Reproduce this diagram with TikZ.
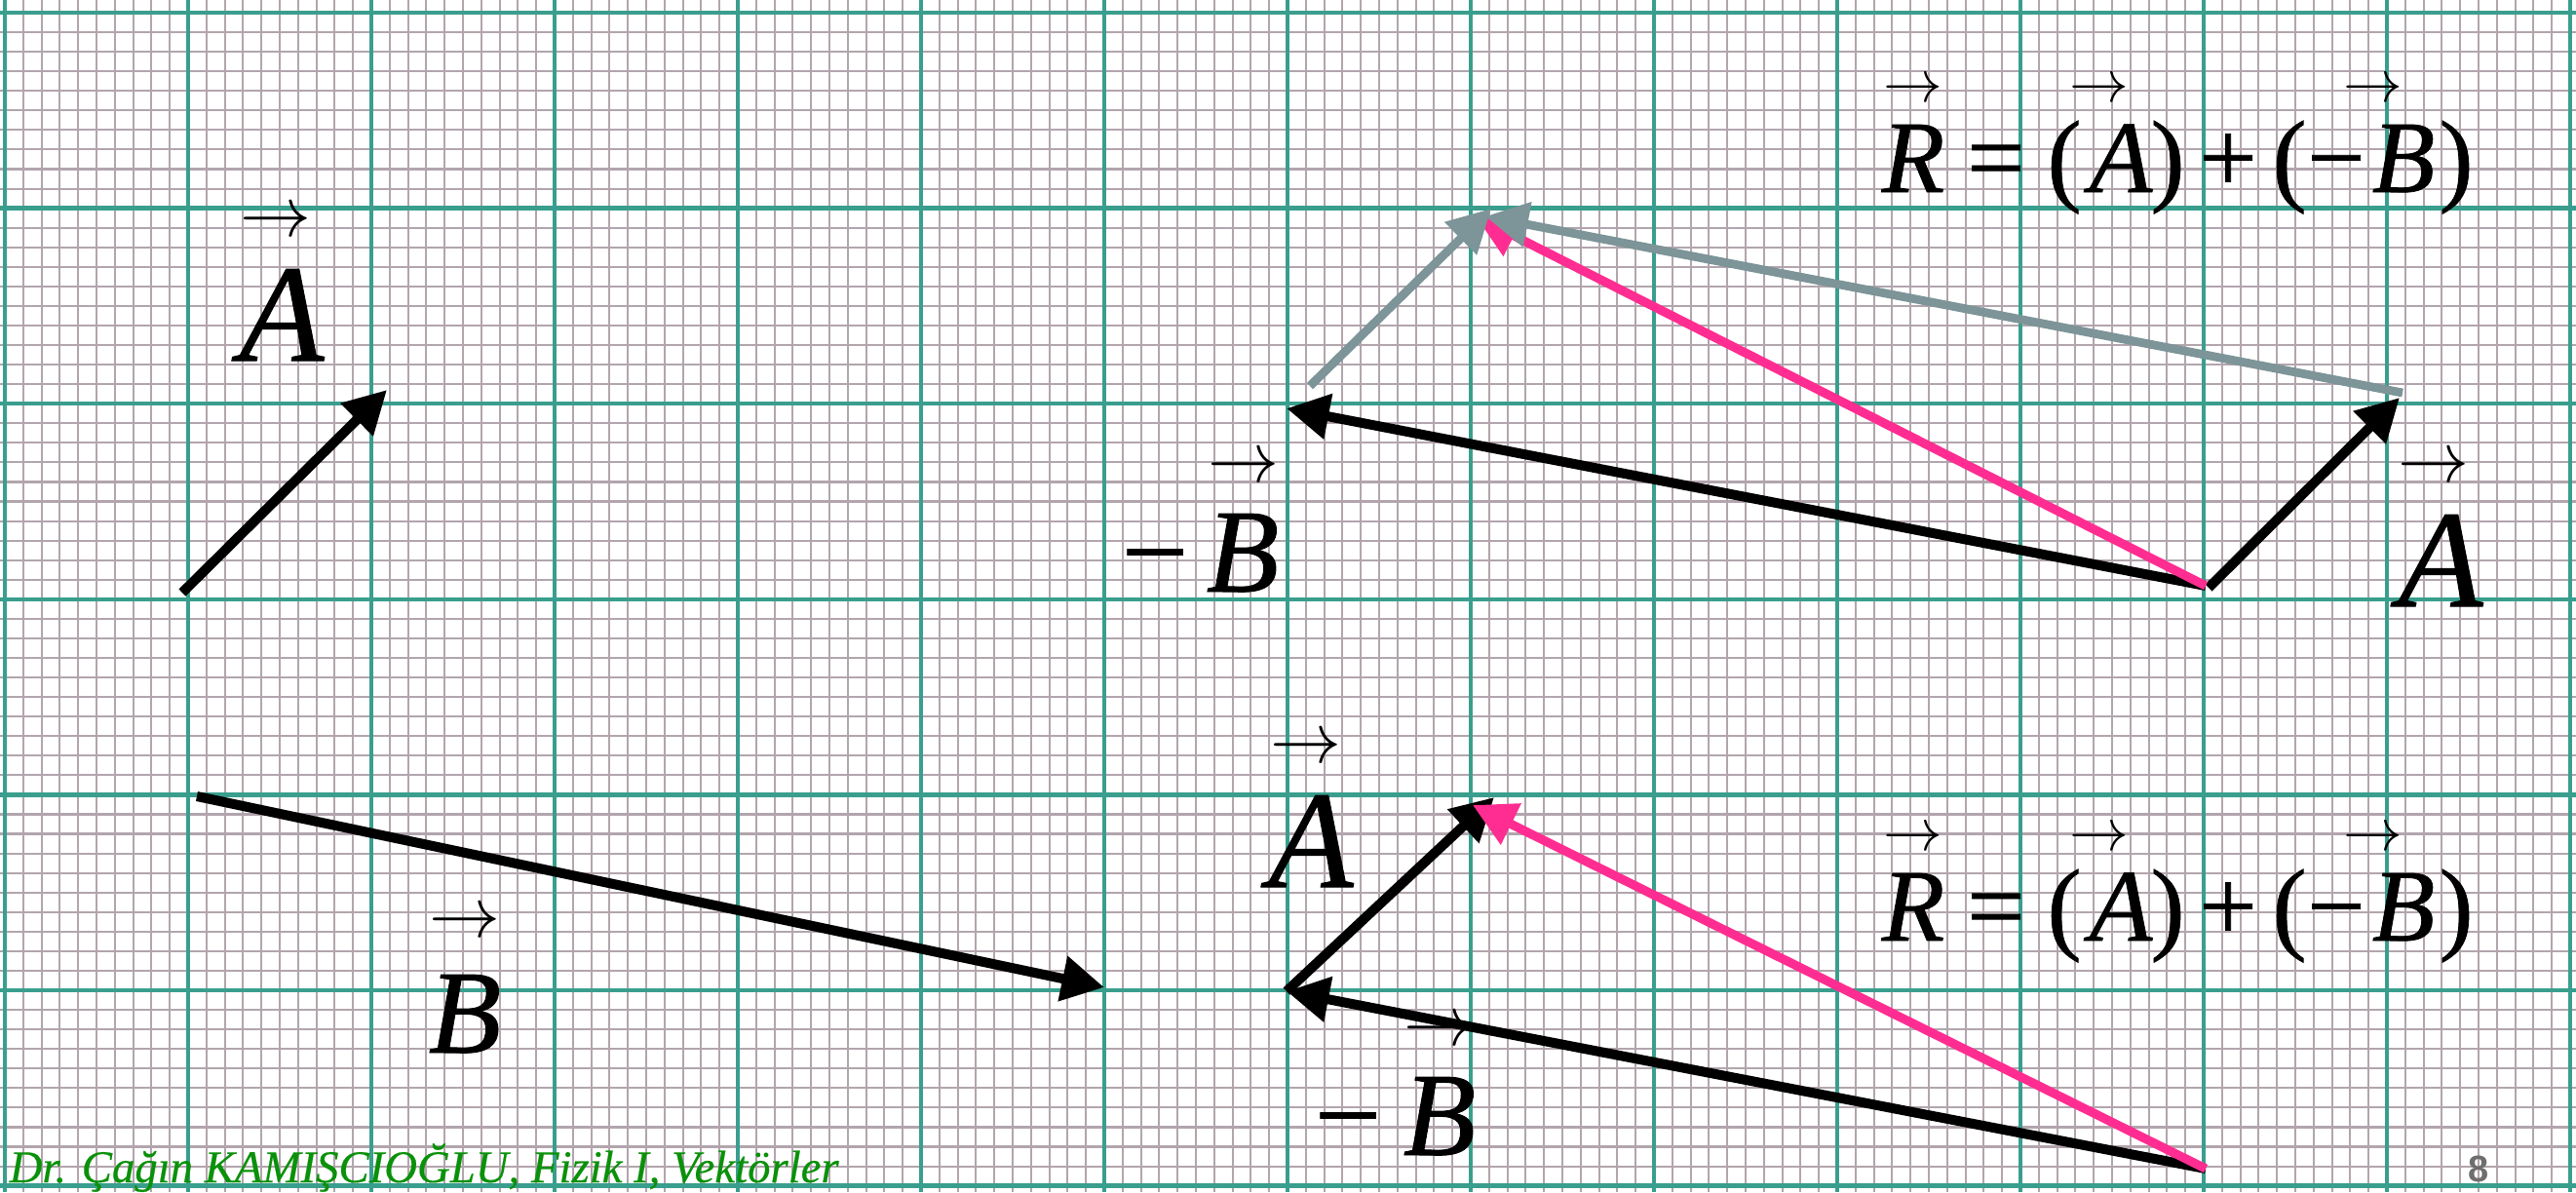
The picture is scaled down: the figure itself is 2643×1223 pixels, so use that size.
\documentclass[tikz,border=0pt]{standalone}
\usepackage{fontspec}
\setmainfont{Liberation Serif}
\newfontfamily\letfont[FakeBold=0.7]{Liberation Serif}
\newfontfamily\footfont[FakeBold=0.4]{Liberation Serif}
\newfontfamily\numfont{Liberation Sans}
\usetikzlibrary{arrows.meta}
\definecolor{minorc}{RGB}{178,165,173}
\definecolor{majorc}{RGB}{58,158,142}
\definecolor{pinkc}{RGB}{255,45,145}
\definecolor{grayc}{RGB}{125,148,152}
\definecolor{footc}{RGB}{10,145,10}
\definecolor{numc}{RGB}{110,110,110}
\tikzset{
  minorl/.style={line width=0.6pt, draw=minorc},
  majorl/.style={line width=1.25pt, draw=majorc},
  vecline/.style={line width=2.85pt, -{Triangle[length=12.4pt,width=12.8pt]}},
  vecblack/.style={vecline, draw=black},
  vecpink/.style={vecline, line width=2.6pt, draw=pinkc, -{Triangle[length=12.5pt,width=12.8pt]}},
  vecgray/.style={vecline, line width=2.5pt, draw=grayc, -{Triangle[length=12.5pt,width=12.8pt]}},
  alet/.style={inner sep=0, anchor=base, font=\fontsize{40.4}{44}\selectfont\letfont\itshape},
  blet/.style={inner sep=0, anchor=base, font=\fontsize{34.7}{38}\selectfont\letfont\itshape},
  bminus/.style={inner sep=0, anchor=base, font=\fontsize{34.7}{38}\selectfont\letfont},
  aarrow/.style={inner sep=0, anchor=base, font=\fontsize{21.5}{22}\selectfont},
  barrow/.style={inner sep=0, anchor=base, font=\fontsize{19.5}{20}\selectfont},
  earrow/.style={inner sep=0, anchor=base, font=\fontsize{16.8}{17}\selectfont},
  elet/.style={inner sep=0, anchor=base, font=\fontsize{30}{32}\selectfont\letfont\itshape},
  esym/.style={inner sep=0, anchor=base, font=\fontsize{30}{32}\selectfont\letfont},
  foot/.style={inner sep=0, anchor=base west, text=footc, font=\fontsize{13.3}{15}\selectfont\footfont\itshape},
  pagenum/.style={inner sep=0, anchor=base, text=numc, font=\fontsize{10.8}{12}\selectfont\numfont\bfseries}
}
\begin{document}
\begin{tikzpicture}[x=0.01cm,y=-0.01cm]
\useasboundingbox (0,0) rectangle (2643,1223);
\fill[white] (0,0) rectangle (2643,1223);
\begin{scope}
\clip (0,0) rectangle (2643,1223);
\foreach \i in {-1,...,141} \draw[minorl] ({5+18.8*\i},0) -- ({5+18.8*\i},1223);
\foreach \j in {-1,...,61} \draw[minorl] (0,{13+20.06*\j}) -- (2643,{13+20.06*\j});
\foreach \i in {0,...,14} \draw[majorl] ({5+188*\i},0) -- ({5+188*\i},1223);
\foreach \j in {0,...,6} \draw[majorl] (0,{13+200.6*\j}) -- (2643,{13+200.6*\j});
\end{scope}

% coordinates
\coordinate (A1s) at (187,608);
\coordinate (A1e) at (397,400);
\coordinate (B1s) at (202,817);
\coordinate (B1e) at (1133,1013);
% top diagram
\coordinate (To) at (2263,601);
\coordinate (TmB) at (1320,419);
\coordinate (TAs) at (2266,603);
\coordinate (TAe) at (2462,408);
\coordinate (TR) at (1514,222);
\coordinate (GAs) at (1344,396);
\coordinate (GAe) at (1530,214);
\coordinate (GBs) at (2465,403);
\coordinate (GBe) at (1524,222);
% bottom diagram
\coordinate (Bo) at (2263,1199);
\coordinate (BmB) at (1320,1017);
\coordinate (BAe) at (1533,818);
\coordinate (BR) at (1511,826);

% vectors
\draw[vecblack] (A1s) -- (A1e);
\draw[vecblack] (B1s) -- (B1e);
\draw[vecblack] (To) -- (TmB);
\draw[vecblack] (TAs) -- (TAe);
\draw[vecpink] (To) -- (TR);
\draw[vecgray] (GAs) -- (GAe);
\draw[vecgray] (GBs) -- (GBe);
\draw[vecblack] (Bo) -- (BmB);
\draw[vecblack] (BmB) -- (BAe);
\draw[vecpink] (Bo) -- (BR);

% labels: left
\node[aarrow] (lAar) at (283,242) {$\rightarrow$};
\node[alet] (lA) at (289,370) {A};
\node[barrow] (lBar) at (477,961) {$\rightarrow$};
\node[blet] (lB) at (477,1080) {B};
% top -B
\node[barrow] (tBar) at (1276,494) {$\rightarrow$};
\node[bminus] (tmin) at (1185,607) {−};
\node[blet] (tB) at (1275,607) {B};
% top right A
\node[aarrow] (tAar) at (2497,494) {$\rightarrow$};
\node[alet] (tA) at (2504,622) {A};
% bottom A
\node[aarrow] (bAar) at (1340,782) {$\rightarrow$};
\node[alet] (bA) at (1345,910) {A};
% bottom -B
\node[barrow] (bBar) at (1477,1072) {$\rightarrow$};
\node[bminus] (bmin) at (1383,1185) {−};
\node[blet] (bB) at (1477,1185) {B};

% equations
\foreach \dy/\nm in {0/t,768/b}{
  \begin{scope}[yshift=-\dy*0.01cm]
  \node[earrow] (\nm Rar) at (1963,104) {$\rightarrow$};
  \node[elet] (\nm R) at (1963,197) {R};
  \node[esym] (\nm eq) at (2048,197) {=};
  \node[esym] (\nm lp1) at (2118,197) {(};
  \node[earrow] (\nm Aar) at (2154,104) {$\rightarrow$};
  \node[elet] (\nm A) at (2176,197) {A};
  \node[esym] (\nm rp1) at (2224,197) {)};
  \node[esym] (\nm plus) at (2286,197) {+};
  \node[esym] (\nm lp2) at (2349,197) {(};
  \node[esym] (\nm min) at (2397,197) {−};
  \node[earrow] (\nm Bar) at (2435,104) {$\rightarrow$};
  \node[elet] (\nm B) at (2466,197) {B};
  \node[esym] (\nm rp2) at (2520,197) {)};
  \end{scope}
}

% footer
\node[foot] (footer) at (9,1213) {Dr. Çağın KAMIŞCIOĞLU, Fizik I, Vektörler};
\node[pagenum] (page) at (2543,1212) {8};
\end{tikzpicture}
\end{document}
